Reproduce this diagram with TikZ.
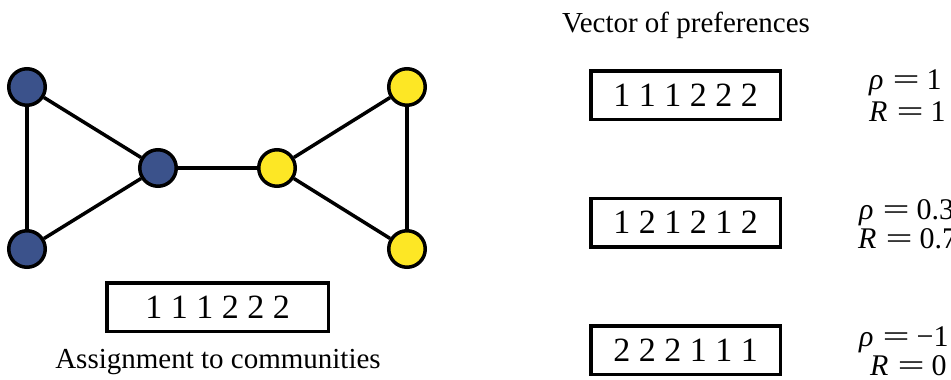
\documentclass[tikz,border=0pt]{standalone}
\usepackage{fontspec}
\newfontfamily\timesfont{Liberation Serif}
\definecolor{commblue}{HTML}{3B528B}
\definecolor{commyellow}{HTML}{FDE725}
% score line: italic symbol, wide equals sign
\newcommand{\scoreline}[2]{{\itshape #1}\hspace{9pt}\scalebox{1.6}[1]{=}\hspace{7pt}#2}
\begin{document}
\begin{tikzpicture}[x=1pt,y=-1pt,
  vertex/.style={circle,draw=black,line width=3.5pt,minimum size=36.5pt,inner sep=0pt},
  bluev/.style={vertex,fill=commblue},
  yellowv/.style={vertex,fill=commyellow},
  link/.style={draw=black,line width=3.5pt},
  vecbox/.style={draw=black,line width=3.5pt,minimum height=48.5pt,inner sep=0pt,
    font=\timesfont\fontsize{34}{40}\selectfont},
  caption/.style={font=\timesfont\fontsize{29}{34}\selectfont,anchor=base,inner sep=0pt},
  score/.style={font=\timesfont\fontsize{30}{36}\selectfont,anchor=base west,inner sep=0pt}]
\useasboundingbox (0,0) rectangle (951,380);
\clip (0,0) rectangle (951,380);

% graph with two communities
\node[bluev] (a1) at (27,87) {};
\node[bluev] (a2) at (27,249) {};
\node[bluev] (a3) at (158,168) {};
\node[yellowv] (b3) at (277,168) {};
\node[yellowv] (b1) at (407,87) {};
\node[yellowv] (b2) at (407,249) {};
\draw[link] (a1) -- (a2);
\draw[link] (a1) -- (a3);
\draw[link] (a2) -- (a3);
\draw[link] (a3) -- (b3);
\draw[link] (b3) -- (b1);
\draw[link] (b3) -- (b2);
\draw[link] (b1) -- (b2);

% community assignment
\node[vecbox,minimum width=221.5pt] (assign) at (217.5,307) {1 1 1 2 2 2};
\node[caption] (assigncap) at (218,368) {Assignment to communities};

% preference vectors
\node[caption] (prefcap) at (686,32) {Vector of preferences};
\node[vecbox,minimum width=189.5pt] (v1) at (685.5,95) {1 1 1 2 2 2};
\node[vecbox,minimum width=189.5pt] (v2) at (685.5,222.5) {1 2 1 2 1 2};
\node[vecbox,minimum width=189.5pt] (v3) at (685.5,350) {2 2 2 1 1 1};

% scores
\node[score] (r1) at (869,89) {\scoreline{ρ}{1}};
\node[score] (s1) at (869,121) {\scoreline{R}{1}};
\node[score] (r2) at (859,219) {\scoreline{ρ}{0.3}};
\node[score] (s2) at (858,248) {\scoreline{R}{0.7}};
\node[score] (r3) at (859,346) {\scoreline{ρ}{−1}};
\node[score] (s3) at (870,375) {\scoreline{R}{0}};
\end{tikzpicture}
\end{document}
